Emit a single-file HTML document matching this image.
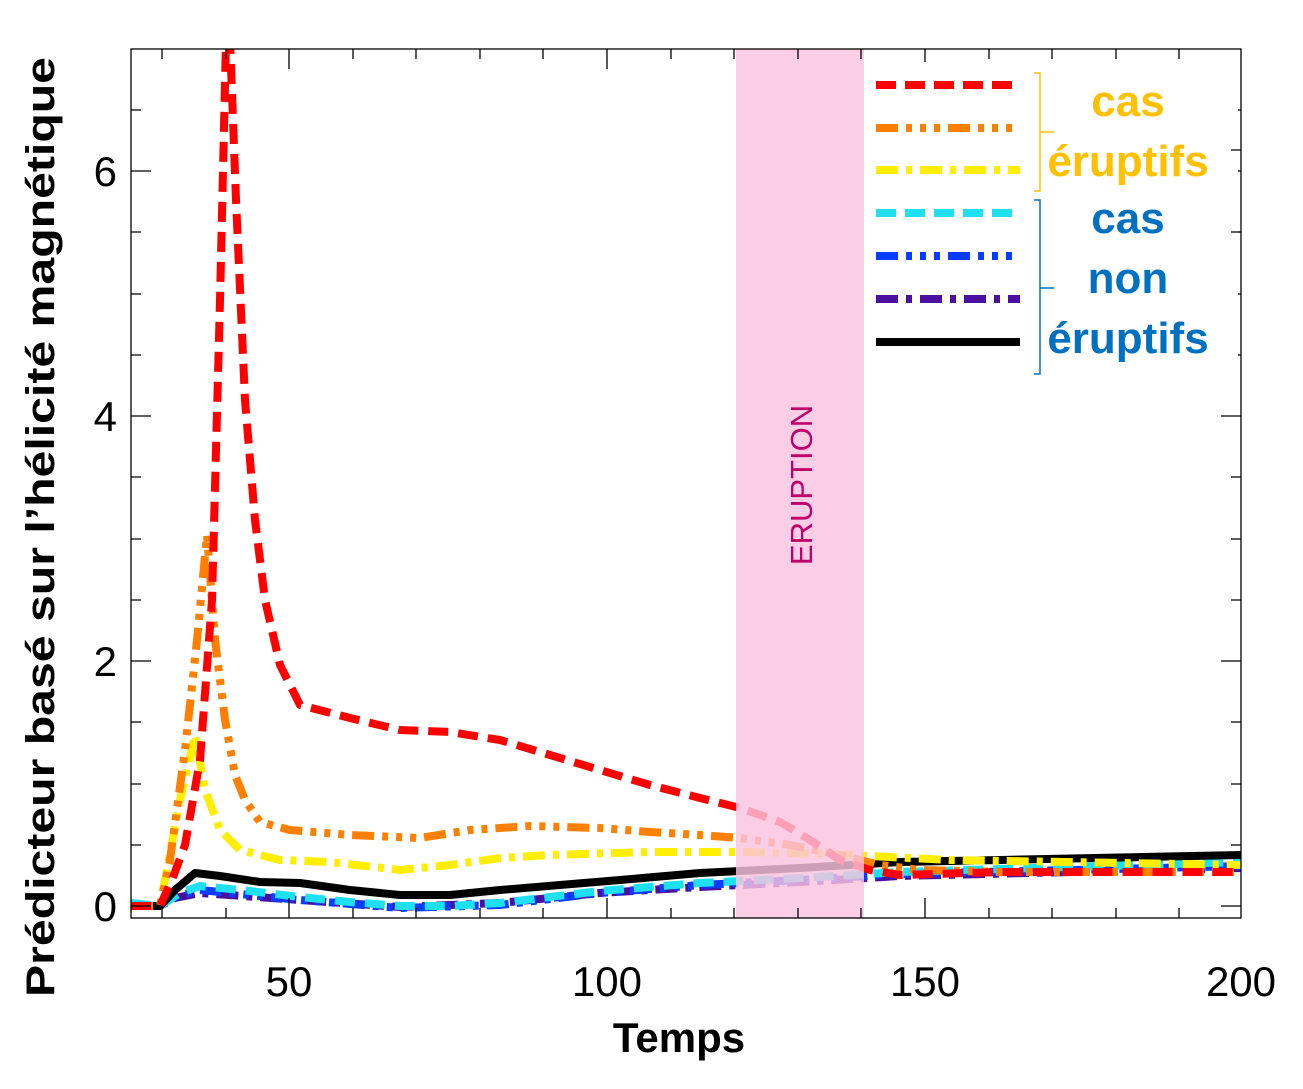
<!DOCTYPE html>
<html><head><meta charset="utf-8"><style>
body{margin:0;background:#fff;}
svg{display:block;font-family:"Liberation Sans",Arial,sans-serif;}
</style></head><body>
<svg width="1303" height="1089" viewBox="0 0 1303 1089" xmlns="http://www.w3.org/2000/svg">
<rect width="1303" height="1089" fill="#fff"/>
<defs><clipPath id="c"><rect x="131" y="49" width="1110" height="869"/></clipPath></defs>
<g clip-path="url(#c)" fill="none" stroke-width="8" stroke-linejoin="round">
<polyline stroke="#4b0fa0" stroke-dasharray="22 8 6 8" points="131,906 160,906 175,898 200,893 300,900 400,907 500,903 600,893 700,887 800,882 900,876 1241,868"/>
<polyline stroke="#0a3cff" stroke-dasharray="22 8 6 8 6 8 6 8" points="131,906 160,906 175,897 200,890 300,900 400,908 500,905 600,893 700,885 800,880 900,874 1241,866"/>
<polyline stroke="#1ee0f0" stroke-dasharray="20 10" points="131,903 160,906 180,893 200,886 250,891 300,897 350,902 400,906 450,906 500,903 550,897 600,891 700,883 800,878 900,872 1241,862"/>
<polyline stroke="#000" points="131,906 160,906 175,890 195,873 220,876 260,882 300,883 350,890 400,895 450,895 500,890 560,885 620,880 700,873 800,868 900,862 1000,860 1241,855"/>
<polyline stroke="#ffee00" stroke-dasharray="22 8 6 8" points="131,906 160,906 165,880 180,800 195,735 205,790 220,830 240,850 280,860 330,862 400,870 450,865 500,858 550,855 650,852 750,852 850,855 950,860 1241,865"/>
<polyline stroke="#ff8000" stroke-dasharray="22 8 6 8 6 8 6 8" points="131,906 160,906 170,860 185,750 197,640 207,535 215,640 225,720 235,775 245,800 260,822 290,830 350,835 420,838 470,830 530,826 600,828 650,832 700,835 740,838 790,845 840,855 880,865 920,870 1000,872 1241,872"/>
<polyline stroke="#ff0000" stroke-dasharray="20 10" points="131,906 160,906 172,880 185,845 200,760 212,600 220,300 226,40 230,40 236,200 245,400 255,520 265,600 280,665 300,705 350,718 400,730 450,732 500,740 550,755 600,770 650,785 700,798 740,808 780,822 810,840 840,860 870,870 900,875 1000,872 1241,872"/>
</g>
<rect x="736" y="49" width="128" height="869" fill="#fbc3df" opacity="0.82"/>
<text transform="translate(812,485) rotate(-90)" text-anchor="middle" font-size="31" fill="#c0006a">ERUPTION</text>
<g stroke="#000" stroke-width="1.3">
<rect x="131" y="49" width="1110" height="869" fill="none"/>
<path d="M162,918v-10M226,918v-10M289,918v-20M353,918v-10M416,918v-10M480,918v-10M543,918v-10M607,918v-20M671,918v-10M734,918v-10M798,918v-10M861,918v-10M925,918v-20M989,918v-10M1052,918v-10M1116,918v-10M1179,918v-10
M162,49v10M226,49v10M289,49v20M353,49v10M416,49v10M480,49v10M543,49v10M607,49v20M671,49v10M734,49v10M798,49v10M861,49v10M925,49v20M989,49v10M1052,49v10M1116,49v10M1179,49v10
M131,906h20M131,845h10M131,784h10M131,722h10M131,661h20M131,600h10M131,539h10M131,477h10M131,416h20M131,355h10M131,294h10M131,232h10M131,171h20M131,110h10
M1241,906h-20M1241,845h-10M1241,784h-10M1241,722h-10M1241,661h-20M1241,600h-10M1241,539h-10M1241,477h-10M1241,416h-20M1241,355h-10M1241,294h-10M1241,232h-10M1241,171h-20M1241,110h-10"/>
</g>
<g font-size="42" fill="#000" text-anchor="middle">
<text x="289" y="996">50</text><text x="607" y="996">100</text><text x="925" y="996">150</text><text x="1241" y="996">200</text>
</g>
<g font-size="42" fill="#000" text-anchor="end">
<text x="117" y="921">0</text><text x="117" y="676">2</text><text x="117" y="431">4</text><text x="117" y="186">6</text>
</g>
<text x="679" y="1052" text-anchor="middle" font-size="42" font-weight="bold">Temps</text>
<text transform="translate(54,527) rotate(-90)" text-anchor="middle" font-size="40" font-weight="bold" textLength="940" lengthAdjust="spacingAndGlyphs">Prédicteur basé sur l’hélicité magnétique</text>
<rect x="868" y="62" width="370" height="320" fill="#fff"/>
<g stroke-width="8" fill="none">
<line x1="876" y1="85" x2="1020" y2="85" stroke="#ff0000" stroke-dasharray="20 9"/>
<line x1="876" y1="128" x2="1020" y2="128" stroke="#ff8000" stroke-dasharray="22 8 6 8 6 8 6 8"/>
<line x1="876" y1="170" x2="1020" y2="170" stroke="#ffee00" stroke-dasharray="22 8 6 8"/>
<line x1="876" y1="213" x2="1020" y2="213" stroke="#1ee0f0" stroke-dasharray="20 9"/>
<line x1="876" y1="256" x2="1020" y2="256" stroke="#0a3cff" stroke-dasharray="22 8 6 8 6 8 6 8"/>
<line x1="876" y1="299" x2="1020" y2="299" stroke="#4b0fa0" stroke-dasharray="22 8 6 8"/>
<line x1="876" y1="342" x2="1020" y2="342" stroke="#000"/>
</g>
<path d="M1034,73h6v118h-6M1040,132h14" stroke="#ffc000" stroke-width="1.5" fill="none"/>
<path d="M1034,200h6v174h-6M1040,288h14" stroke="#0070c0" stroke-width="1.5" fill="none"/>
<g font-size="44" font-weight="bold" text-anchor="middle">
<text x="1128" y="116" fill="#ffc000">cas</text>
<text x="1128" y="176" fill="#ffc000">éruptifs</text>
<text x="1128" y="233" fill="#0070c0">cas</text>
<text x="1128" y="293" fill="#0070c0">non</text>
<text x="1128" y="353" fill="#0070c0">éruptifs</text>
</g>
<path d="M1241,150h-10M1241,232h-10" stroke="#000" stroke-width="1.3"/>
</svg>
</body></html>
